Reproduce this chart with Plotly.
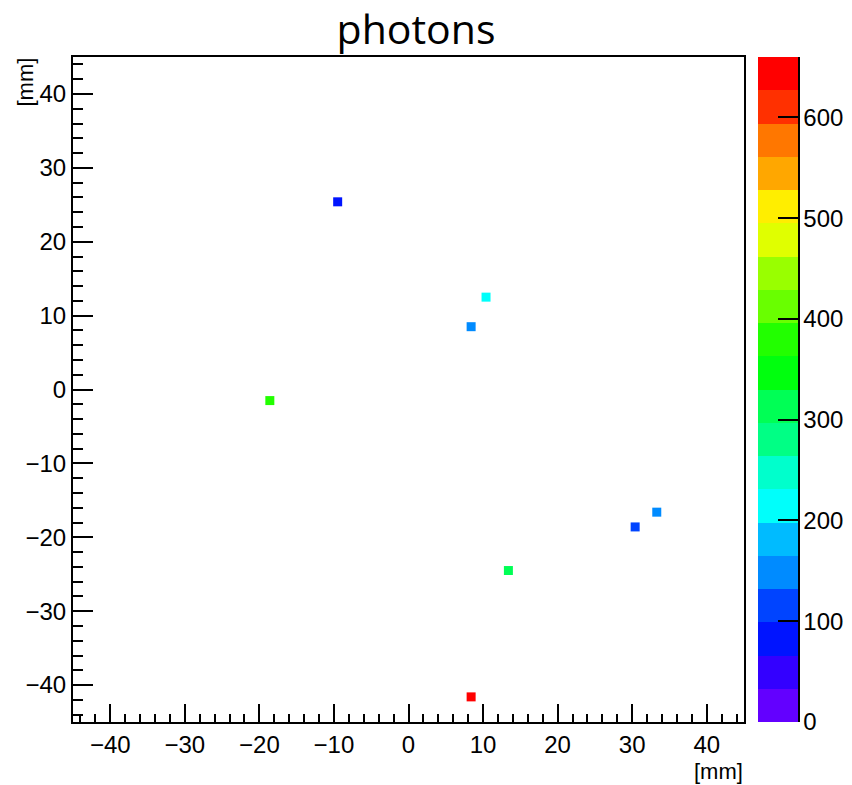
import plotly.graph_objects as go

# ---- data ----
x_mm = [-9.5, 10.4, 8.4, -18.6, 33.3, 30.4, 13.4, 8.4]
y_mm = [25.4, 12.5, 8.5, -1.5, -16.6, -18.6, -24.5, -41.6]
photons = [85, 215, 150, 380, 150, 115, 315, 658]

z_min, z_max = 0, 660
n_levels = 20
level_colors = ["#6300ff", "#3300ff", "#0014ff", "#0044ff", "#008bff",
                "#00bbff", "#00fffb", "#00ffcc", "#00ff85", "#00ff55",
                "#00ff0e", "#22ff00", "#69ff00", "#99ff00", "#e0ff00",
                "#ffee00", "#ffa700", "#ff7700", "#ff3000", "#ff0000"]
cbar_ticks = [0, 100, 200, 300, 400, 500, 600]
axis_ticks = [-40, -30, -20, -10, 0, 10, 20, 30, 40]

# discrete colorscale
cs = []
for i, c in enumerate(level_colors):
    cs.append([i / n_levels, c])
    cs.append([(i + 1) / n_levels, c])

W, H = 852, 785
L, R, T, B = 73, 108, 57, 63
pw = W - L - R
ph = H - T - B

tick_font = dict(family="Liberation Sans, Arial, sans-serif", size=24, color="black")

fig = go.Figure()
fig.add_trace(go.Scatter(
    x=x_mm, y=y_mm, mode="markers",
    marker=dict(symbol="square", size=9, color=photons, colorscale=cs,
                cmin=z_min, cmax=z_max, line=dict(width=0),
                colorbar=dict(
                    x=(758 - L) / pw, xanchor="left", xpad=0,
                    y=0.5, yanchor="middle", len=1, lenmode="fraction", ypad=0,
                    thickness=40, thicknessmode="pixels",
                    outlinewidth=0,
                    tickvals=cbar_ticks, ticks="inside", ticklen=20,
                    tickwidth=2, tickcolor="black",
                    tickfont=tick_font,
                )),
    hoverinfo="skip", showlegend=False,
))

axis_common = dict(
    showgrid=False, zeroline=False, showline=True, linecolor="black",
    linewidth=2, mirror=True, ticks="inside", tickcolor="black",
    tickwidth=2, tickvals=axis_ticks, tickfont=tick_font,
)

fig.update_xaxes(range=[-45, 45], ticklen=18,
                 minor=dict(dtick=2, tick0=0, ticks="inside", ticklen=8,
                            tickwidth=2, tickcolor="black"),
                 **axis_common)
fig.update_yaxes(range=[-45, 45], ticklen=20,
                 minor=dict(dtick=2, tick0=0, ticks="inside", ticklen=10,
                            tickwidth=2, tickcolor="black"),
                 **axis_common)

fig.add_shape(type="line", xref="paper", yref="paper",
              x0=(799 - L) / pw, x1=(799 - L) / pw, y0=0, y1=1,
              line=dict(color="black", width=2))

label_font = dict(family="Liberation Sans, Arial, sans-serif", size=22, color="black")
fig.add_annotation(text="[mm]", xref="paper", yref="paper",
                   x=1, xanchor="right", y=(722 - 771) / ph, yanchor="middle",
                   showarrow=False, font=label_font, borderpad=0)
fig.add_annotation(text="[mm]", xref="paper", yref="paper",
                   x=(25 - L) / pw, xanchor="center", y=1, yanchor="top",
                   textangle=-90, showarrow=False, font=label_font, borderpad=0)

fig.update_layout(
    width=W, height=H,
    margin=dict(l=L, r=R, t=T, b=B, autoexpand=False),
    paper_bgcolor="white", plot_bgcolor="white",
    title=dict(text="photons", x=416 / W, xanchor="center",
               y=1 - 30 / H, yanchor="middle",
               font=dict(family="Open Sans, Lato, sans-serif", size=41, color="black")),
)

fig.write_html("out.html")
